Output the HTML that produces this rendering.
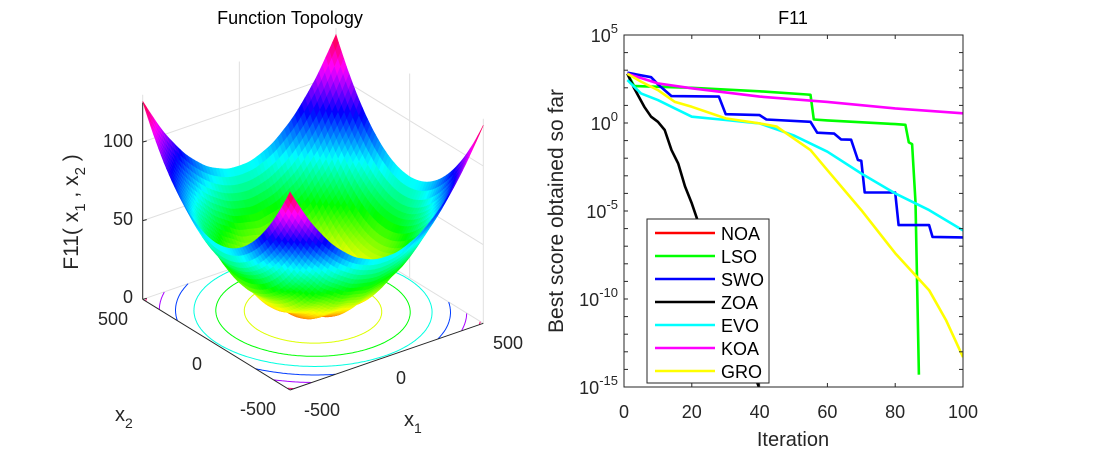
<!DOCTYPE html>
<html><head><meta charset="utf-8"><style>
html,body{margin:0;padding:0;background:#fff;}
svg{display:block;font-family:"Liberation Sans",sans-serif;}
</style></head><body>
<svg id="root" width="1094" height="453" viewBox="0 0 1094 453">
<g id="left"></g>
<g id="right"></g>
</svg>
<script>
// ---- convergence data (log10 of best score) ----
const iterNOA = [];
const valNOA = [];
const iterLSO = [1,3,20,40,54,55,56,60,80,83,84,85,86,87];
const valLSO = [2.8,2.1,2.0,1.8,1.62,1.6,0.2,0.15,-0.06,-0.1,-1.1,-1.2,-4.5,-14.3];
const iterSWO = [1,8,10,14,28,30,40,42,55,57,62,64,67,69,70,71,80,81,90,91,100];
const valSWO = [2.86,2.6,2.2,1.53,1.5,0.5,0.45,0.2,0.07,-0.55,-0.6,-0.93,-0.95,-2.1,-2.15,-3.95,-3.95,-5.8,-5.8,-6.47,-6.5];
const iterZOA = [1,3,6,8,10,12,14,16,18,20,22,25,30,35,39,41];
const valZOA = [2.8,1.97,0.92,0.36,0.07,-0.4,-1.54,-2.3,-3.6,-4.57,-5.7,-7.4,-10.26,-12.5,-14.6,-15.6];
const iterEVO = [1,5,10,15,20,30,40,50,60,70,80,90,100];
const valEVO = [2.44,1.68,1.3,0.83,0.36,0.17,-0.02,-0.7,-1.63,-2.87,-4.0,-4.95,-6.1];
const iterKOA = [1,10,20,40,60,80,100];
const valKOA = [2.8,2.25,1.97,1.5,1.2,0.83,0.55];
const iterGRO = [1,5,10,15,20,30,40,45,50,55,60,70,80,90,95,100];
const valGRO = [2.8,2.35,1.87,1.2,0.92,0.26,-0.02,-0.2,-0.87,-1.54,-2.68,-4.95,-7.4,-9.5,-11.2,-13.3];
const seriesNames = ["NOA","LSO","SWO","ZOA","EVO","KOA","GRO"];
const seriesColors = ["#ff0000","#00ff00","#0000ff","#000000","#00ffff","#ff00ff","#ffff00"];
const yTickExp = [5,0,-5,-10,-15];
const xTickVals = [0,20,40,60,80,100];

const NS="http://www.w3.org/2000/svg";
function mk(tag,attrs,parent){const e=document.createElementNS(NS,tag);for(const k in attrs)e.setAttribute(k,attrs[k]);if(parent)parent.appendChild(e);return e;}

// ---- right chart ----
const R=document.getElementById('right');
const PX0=624,PX1=963,PY0=35,PY1=387;
const xs=v=>PX0+(v/100)*(PX1-PX0);
const ys=l=>PY0+(5-l)/20*(PY1-PY0);
mk('rect',{x:PX0,y:PY0,width:PX1-PX0,height:PY1-PY0,fill:'#fff'},R);
const defs=mk('defs',{},R);
const cp=mk('clipPath',{id:'pc'},defs);
mk('rect',{x:PX0,y:PY0,width:PX1-PX0,height:PY1-PY0},cp);
const lines=mk('g',{'clip-path':'url(#pc)'},R);
const allIter=[iterNOA,iterLSO,iterSWO,iterZOA,iterEVO,iterKOA,iterGRO];
const allVal=[valNOA,valLSO,valSWO,valZOA,valEVO,valKOA,valGRO];
for(let s=0;s<7;s++){
  if(!allIter[s].length)continue;
  const d=allIter[s].map((it,i)=>(i?'L':'M')+xs(it).toFixed(1)+','+ys(allVal[s][i]).toFixed(1)).join(' ');
  const p=mk('path',{d:d,fill:'none',stroke:seriesColors[s],'stroke-width':2.6,'stroke-linejoin':'round'},lines);
  
  
}
const ax=mk('g',{stroke:'#262626','stroke-width':1,fill:'none'},R);


mk('rect',{x:PX0,y:PY0,width:PX1-PX0,height:PY1-PY0},ax);
for(let e=5;e>=-15;e--){const y=ys(e);mk('line',{x1:PX0,y1:y,x2:PX0+4,y2:y},ax);mk('line',{x1:PX1,y1:y,x2:PX1-4,y2:y},ax);}
xTickVals.forEach(v=>{const x=xs(v);mk('line',{x1:x,y1:PY1,x2:x,y2:PY1-4},ax);mk('line',{x1:x,y1:PY0,x2:x,y2:PY0+4},ax);
  const t=mk('text',{x:x,y:PY1+31,'text-anchor':'middle','font-size':18,fill:'#262626'},R);t.textContent=v;
  
  });
yTickExp.forEach(e=>{const y=ys(e);
  const t=mk('text',{x:PX0-6,y:y+7,'text-anchor':'end','font-size':18,fill:'#262626'},R);
  
  
  t.appendChild(document.createTextNode('10'));
  const sp=mk('tspan',{dy:-9,'font-size':13},t);sp.textContent=e;});
let t=mk('text',{x:793,y:24,'text-anchor':'middle','font-size':18,fill:'#000'},R);t.textContent='F11';

t=mk('text',{x:793,y:446,'text-anchor':'middle','font-size':20,fill:'#262626'},R);t.textContent='Iteration';

t=mk('text',{x:0,y:0,'text-anchor':'middle','font-size':21,fill:'#262626',transform:'translate(563,211) rotate(-90)'},R);t.textContent='Best score obtained so far';

const lg=mk('g',{},R);

mk('rect',{x:647,y:219,width:122,height:164,fill:'#fff',stroke:'#262626','stroke-width':1},lg);
seriesNames.forEach((n,i)=>{const y=233+i*23;
  const g=mk('g',{},lg);
  
  
  mk('line',{x1:655,y1:y,x2:715,y2:y,stroke:seriesColors[i],'stroke-width':2.6},g);
  const tt=mk('text',{x:721,y:y+7,'font-size':18,fill:'#000'},g);tt.textContent=n;});

// ---- left 3D surface ----
const L=document.getElementById('left');
const B=[290,390],RV=[483.3,323.3],LV=[142.7,299.3],ZS=1.573;
function proj(x1,x2,z){const a=(x1+500)/1000,b=(x2+500)/1000;
  return [B[0]+a*(RV[0]-B[0])+b*(LV[0]-B[0]), B[1]+a*(RV[1]-B[1])+b*(LV[1]-B[1])-z*ZS];}
function f(x1,x2){return (x1*x1+x2*x2)/4000-Math.cos(x1)*Math.cos(x2/Math.SQRT2)+1;}
function col(z){let h=15+330*Math.max(0,Math.min(125,z))/125;return 'hsl('+h.toFixed(0)+',100%,50%)';}
const grid=mk('g',{stroke:'#e0e0e0','stroke-width':1,fill:'none'},L);

[-500,0,500].forEach(v=>{let p=proj(v,500,0),q=proj(v,500,130);mk('line',{x1:p[0],y1:p[1],x2:q[0],y2:q[1]},grid);
  p=proj(500,v,0);q=proj(500,v,130);mk('line',{x1:p[0],y1:p[1],x2:q[0],y2:q[1]},grid);});
[0,50,100].forEach(z=>{const a=proj(-500,500,z),b=proj(500,500,z),c=proj(500,-500,z);
  mk('polyline',{points:a.join(',')+' '+b.join(',')+' '+c.join(',')},grid);});
const levels=[20,40,60,80,100,120];
const cg=mk('g',{fill:'none','stroke-width':1},L);

levels.forEach(lv=>{const r=Math.sqrt(4000*lv);let d='',pen=false;
  for(let k=0;k<=360;k++){const a=k*Math.PI/180;const x1=r*Math.cos(a),x2=r*Math.sin(a);
    if(Math.abs(x1)<=500&&Math.abs(x2)<=500){const p=proj(x1,x2,0);d+=(pen?'L':'M')+p[0].toFixed(1)+','+p[1].toFixed(1);pen=true;}else pen=false;}
  mk('path',{d:d,stroke:col(lv)},cg);});
const N=56,quads=[];
for(let i=0;i<N;i++)for(let j=0;j<N;j++){
  const a0=-500+1000*i/N,a1=-500+1000*(i+1)/N,b0=-500+1000*j/N,b1=-500+1000*(j+1)/N;
  const zs=[f(a0,b0),f(a1,b0),f(a1,b1),f(a0,b1)];
  quads.push({d:a0+a1+b0+b1,pts:[proj(a0,b0,zs[0]),proj(a1,b0,zs[1]),proj(a1,b1,zs[2]),proj(a0,b1,zs[3])],z:(zs[0]+zs[1]+zs[2]+zs[3])/4});}
quads.sort((p,q)=>q.d-p.d);
const sg=mk('g',{},L);

quads.forEach(q=>{const c=col(q.z);mk('polygon',{points:q.pts.map(p=>p[0].toFixed(1)+','+p[1].toFixed(1)).join(' '),fill:c,stroke:c,'stroke-width':0.6},sg);});
const a3=mk('g',{stroke:'#262626','stroke-width':1},L);

const pL=proj(-500,500,0),pB=proj(-500,-500,0),pR=proj(500,-500,0),pT=proj(-500,500,125);
mk('line',{x1:pL[0],y1:pL[1],x2:pB[0],y2:pB[1]},a3);
mk('line',{x1:pB[0],y1:pB[1],x2:pR[0],y2:pR[1]},a3);
mk('line',{x1:pL[0],y1:pL[1],x2:pT[0],y2:pT[1]},a3);
[0,50,100].forEach(z=>{const p=proj(-500,500,z);mk('line',{x1:p[0],y1:p[1],x2:p[0]+4,y2:p[1]-1},a3);});
function txt(s,x,y,name,size,anchor){const e=mk('text',{x:x,y:y,'font-size':size||18,fill:'#262626','text-anchor':anchor||'middle'},L);e.textContent=s;
  return e;}
txt('Function Topology',290,24,'surface-title',18,'middle').setAttribute('fill','#000');
txt('100',133,147,'z-tick-label',18,'end');txt('50',133,225,'z-tick-label',18,'end');txt('0',133,303,'z-tick-label',18,'end');
txt('500',113,325,'x2-tick-label');txt('0',197,370,'x2-tick-label');txt('-500',258,415,'x2-tick-label');
txt('-500',322,416,'x1-tick-label');txt('0',401,384,'x1-tick-label');txt('500',508,349,'x1-tick-label');
let e=txt('x',115,421,'x2-axis-title',20,'start');let s=mk('tspan',{dy:7,'font-size':14},e);s.textContent='2';
e=txt('x',404,426,'x1-axis-title',20,'start');s=mk('tspan',{dy:7,'font-size':14},e);s.textContent='1';
e=mk('text',{'font-size':21,fill:'#262626','text-anchor':'middle',transform:'translate(78,212) rotate(-90)'},L);

e.appendChild(document.createTextNode('F11( x'));s=mk('tspan',{dy:7,'font-size':15},e);s.textContent='1';
s=mk('tspan',{dy:-7},e);s.textContent=' , x';s=mk('tspan',{dy:7,'font-size':15},e);s.textContent='2';
s=mk('tspan',{dy:-7},e);s.textContent=' )';
</script>
</body></html>
